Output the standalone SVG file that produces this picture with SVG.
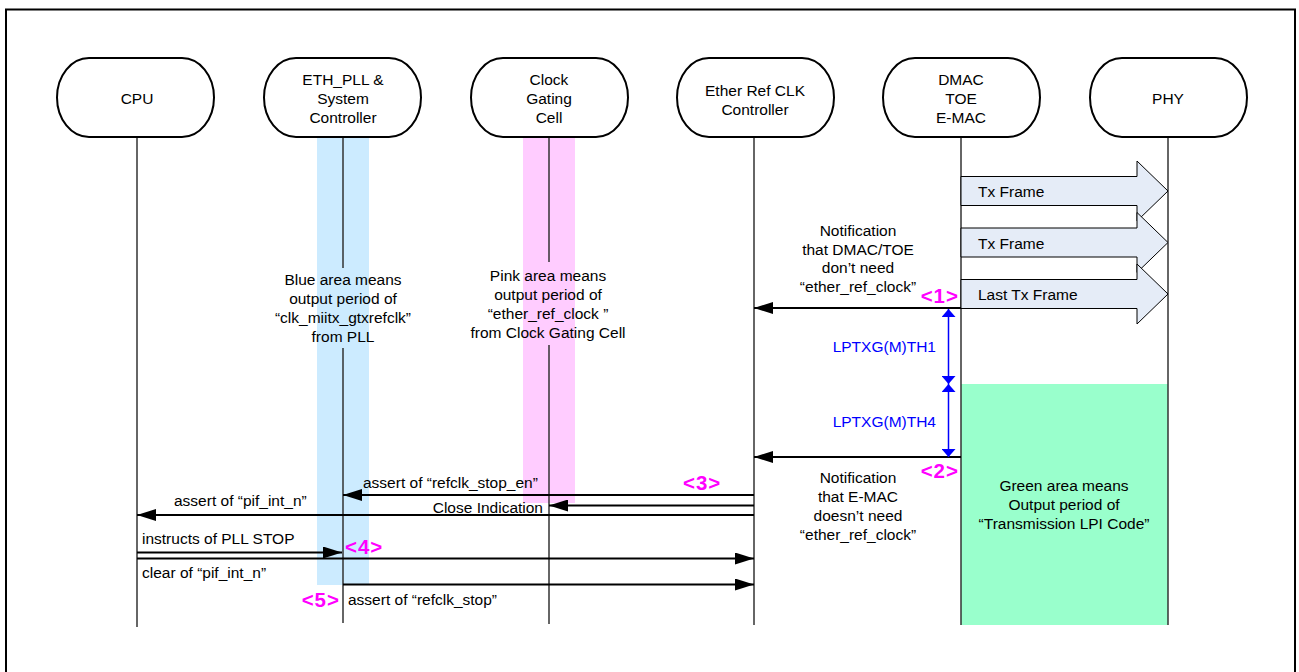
<svg xmlns="http://www.w3.org/2000/svg" width="1299" height="672" viewBox="0 0 1299 672">
<style>
text{font-family:"Liberation Sans",Arial,sans-serif;font-size:15.5px;fill:#000}
.c{text-anchor:middle}
.e{text-anchor:end}
.node{fill:#fff;stroke:#000;stroke-width:2}
.life{stroke:#333;stroke-width:1.5;fill:none}
.msg{stroke:#000;stroke-width:2.2;fill:none}
.blk{fill:#E5ECF7;stroke:#000;stroke-width:1}
.blu{stroke:#0000FF;stroke-width:1.5;fill:none}
.bt{fill:#0000FF}
.mg{fill:#FF00FF;font-weight:bold;font-size:20.5px;letter-spacing:1px}
</style>
<defs>
<marker id="ah" markerUnits="userSpaceOnUse" markerWidth="20" markerHeight="12" refX="19" refY="6" orient="auto"><path d="M0,0 L19,6 L0,12 z" fill="#000"/></marker>
<marker id="bh" markerUnits="userSpaceOnUse" markerWidth="9" markerHeight="14" refX="8" refY="7" orient="auto-start-reverse"><path d="M0,0 L8,7 L0,14 z" fill="#0000FF"/></marker>
</defs>
<rect x="6" y="9.5" width="1289" height="680" fill="none" stroke="#000" stroke-width="2"/>

<g id="bands">
<rect x="317" y="137" width="52" height="448" fill="#CCEBFF"/>
<rect x="523" y="137" width="52" height="366" fill="#FFCCFF"/>
<rect x="961" y="384" width="207" height="241" fill="#99FFCC"/>
</g>

<g id="lifelines">
<line class="life" x1="137" y1="137" x2="137" y2="627"/>
<line class="life" x1="343" y1="137" x2="343" y2="268"/>
<line class="life" x1="343" y1="348" x2="343" y2="623"/>
<line class="life" x1="549" y1="137" x2="549" y2="262"/>
<line class="life" x1="549" y1="345" x2="549" y2="624"/>
<line class="life" x1="754" y1="137" x2="754" y2="625"/>
<line class="life" x1="961" y1="137" x2="961" y2="625"/>
<line class="life" x1="1168" y1="137" x2="1168" y2="625"/>
</g>

<g id="node-cpu"><rect class="node" x="57" y="58" width="157" height="79" rx="32" ry="39.5"/><text class="c" x="137" y="104">CPU</text></g>
<g id="node-ethpll"><rect class="node" x="264" y="58" width="157" height="79" rx="32" ry="39.5"/><text class="c" x="343" y="85">ETH_PLL &amp;</text><text class="c" x="343" y="104">System</text><text class="c" x="343" y="123">Controller</text></g>
<g id="node-cgc"><rect class="node" x="471" y="58" width="157" height="79" rx="32" ry="39.5"/><text class="c" x="549" y="85">Clock</text><text class="c" x="549" y="104">Gating</text><text class="c" x="549" y="123">Cell</text></g>
<g id="node-erc"><rect class="node" x="677" y="58" width="157" height="79" rx="32" ry="39.5"/><text class="c" x="755" y="96">Ether Ref CLK</text><text class="c" x="755" y="115">Controller</text></g>
<g id="node-dmac"><rect class="node" x="883" y="58" width="157" height="79" rx="32" ry="39.5"/><text class="c" x="961" y="85">DMAC</text><text class="c" x="961" y="104">TOE</text><text class="c" x="961" y="123">E-MAC</text></g>
<g id="node-phy"><rect class="node" x="1090" y="58" width="157" height="79" rx="32" ry="39.5"/><text class="c" x="1168" y="104">PHY</text></g>

<g id="connectors">
<polygon class="blk" points="961,176.5 1137,176.5 1137,161 1168,191 1137,221 1137,205.5 961,205.5"/>
<polygon class="blk" points="961,228 1137,228 1137,212.5 1168,242.5 1137,272.5 1137,257 961,257"/>
<polygon class="blk" points="961,279.5 1137,279.5 1137,264 1168,294 1137,324 1137,308.5 961,308.5"/>
<line class="msg" x1="961" y1="308" x2="754" y2="308" marker-end="url(#ah)"/>
<line class="msg" x1="961" y1="457" x2="754" y2="457" marker-end="url(#ah)"/>
<line class="msg" x1="754" y1="495" x2="343" y2="495" marker-end="url(#ah)"/>
<line class="msg" x1="754" y1="505.5" x2="549" y2="505.5" marker-end="url(#ah)"/>
<line class="msg" x1="754" y1="515" x2="137" y2="515" marker-end="url(#ah)"/>
<line class="msg" x1="137" y1="552.5" x2="342" y2="552.5" marker-end="url(#ah)"/>
<line class="msg" x1="137" y1="558.5" x2="754" y2="558.5" marker-end="url(#ah)"/>
<line class="msg" x1="343" y1="584.5" x2="754" y2="584.5" marker-end="url(#ah)"/>
<line class="blu" x1="948.5" y1="309" x2="948.5" y2="384" marker-start="url(#bh)" marker-end="url(#bh)"/>
<line class="blu" x1="948.5" y1="384" x2="948.5" y2="457" marker-start="url(#bh)" marker-end="url(#bh)"/>
</g>

<g id="labels">
<text x="978" y="197">Tx Frame</text>
<text x="978" y="249">Tx Frame</text>
<text x="978" y="300">Last Tx Frame</text>
<text class="c" x="858" y="236">Notification</text>
<text class="c" x="858" y="254.5">that DMAC/TOE</text>
<text class="c" x="858" y="273">don’t need</text>
<text class="c" x="858" y="291.5">“ether_ref_clock”</text>
<text class="e bt" x="936" y="352">LPTXG(M)TH1</text>
<text class="e bt" x="936" y="427">LPTXG(M)TH4</text>
<text class="c" x="858" y="483">Notification</text>
<text class="c" x="858" y="502">that E-MAC</text>
<text class="c" x="858" y="521">doesn’t need</text>
<text class="c" x="858" y="539.5">“ether_ref_clock”</text>
<text class="c" x="1064" y="491">Green area means</text>
<text class="c" x="1064" y="510">Output period of</text>
<text class="c" x="1064" y="529">“Transmission LPI Code”</text>
<text class="c" x="343" y="285">Blue area means</text>
<text class="c" x="343" y="304">output period of</text>
<text class="c" x="343" y="323">“clk_miitx_gtxrefclk”</text>
<text class="c" x="343" y="342">from PLL</text>
<text class="c" x="548" y="281">Pink area means</text>
<text class="c" x="548" y="299.5">output period of</text>
<text class="c" x="548" y="318.5">“ether_ref_clock ”</text>
<text class="c" x="548" y="337.5">from Clock Gating Cell</text>
<text x="363" y="488">assert of “refclk_stop_en”</text>
<text x="174" y="506">assert of “pif_int_n”</text>
<text class="e" x="543" y="513">Close Indication</text>
<text x="142" y="544">instructs of PLL STOP</text>
<text x="142" y="578">clear of “pif_int_n”</text>
<text x="348" y="605">assert of “refclk_stop”</text>
<text class="mg e" x="959" y="303">&lt;1&gt;</text>
<text class="mg e" x="959" y="478">&lt;2&gt;</text>
<text class="mg" x="683" y="490">&lt;3&gt;</text>
<text class="mg" x="345" y="554">&lt;4&gt;</text>
<text class="mg e" x="340" y="607">&lt;5&gt;</text>
</g>
</svg>
